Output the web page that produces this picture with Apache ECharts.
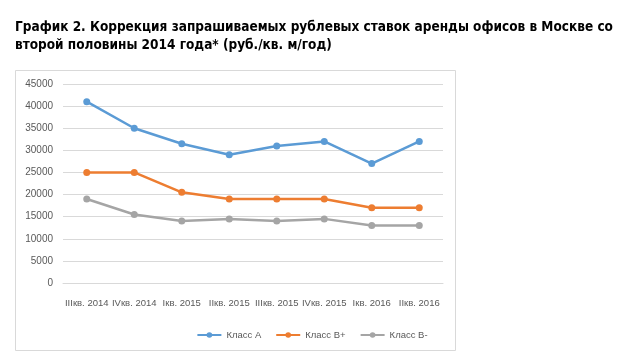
<!DOCTYPE html>
<html><head><meta charset="utf-8">
<script src="https://cdn.jsdelivr.net/npm/echarts@6/dist/echarts.min.js"></script>
<style>html,body{margin:0;padding:0;background:#fff}#c{width:624px;height:360px}</style>
</head><body><div id="c"></div>
<script>
const categories = ['IIIкв. 2014','IVкв. 2014','Iкв. 2015','IIкв. 2015','IIIкв. 2015','IVкв. 2015','Iкв. 2016','IIкв. 2016'];
const classA = [41000, 35000, 31500, 29000, 31000, 32000, 27000, 32000];
const classBplus = [25000, 25000, 20500, 19000, 19000, 19000, 17000, 17000];
const classBminus = [19000, 15500, 14000, 14500, 14000, 14500, 13000, 13000];
const seriesNames = ['Класс А', 'Класс В+', 'Класс В-'];
const colors = ['#5B9BD5', '#ED7D31', '#A5A5A5'];
const font = "'Liberation Sans'";
const chart = echarts.init(document.getElementById('c'), null, {renderer: 'canvas'});
const mk = (name, data, color) => ({
  name, type: 'line', data, symbol: 'circle', symbolSize: 7,
  lineStyle: {width: 2.5, color}, itemStyle: {color}
});
chart.setOption({
  animation: false,
  backgroundColor: '#fff',
  graphic: [{type: 'rect', z: -1, shape: {x: 15.5, y: 70.5, width: 440, height: 280},
    style: {fill: '#fff', stroke: '#d9d9d9', lineWidth: 1}}],
  title: {
    text: 'График 2. Коррекция запрашиваемых рублевых ставок аренды офисов в Москве со\nвторой половины 2014 года* (руб./кв. м/год)',
    left: 10, top: 13,
    textStyle: {fontFamily: "'DejaVu Sans Condensed', 'DejaVu Sans'", fontWeight: 'bold', fontSize: 13.5, color: '#000', lineHeight: 18}
  },
  legend: {
    data: seriesNames, left: 'center', top: 325, itemWidth: 24, itemHeight: 7, itemGap: 14,
    textStyle: {fontFamily: font, fontSize: 9.5, color: '#595959'}
  },
  grid: {left: 63, right: 181, top: 84, bottom: 77},
  xAxis: {
    type: 'category', data: categories, boundaryGap: true,
    axisLine: {lineStyle: {color: '#d9d9d9'}}, axisTick: {show: false},
    axisLabel: {fontFamily: font, fontSize: 9.5, color: '#595959', margin: 15, interval: 0}
  },
  yAxis: {
    type: 'value', min: 0, max: 45000, interval: 5000,
    axisLine: {show: false}, axisTick: {show: false},
    splitLine: {lineStyle: {color: '#d9d9d9'}},
    axisLabel: {fontFamily: font, fontSize: 10, color: '#595959', margin: 10, formatter: v => String(v)}
  },
  series: [mk(seriesNames[0], classA, colors[0]), mk(seriesNames[1], classBplus, colors[1]), mk(seriesNames[2], classBminus, colors[2])]
});
</script></body></html>
